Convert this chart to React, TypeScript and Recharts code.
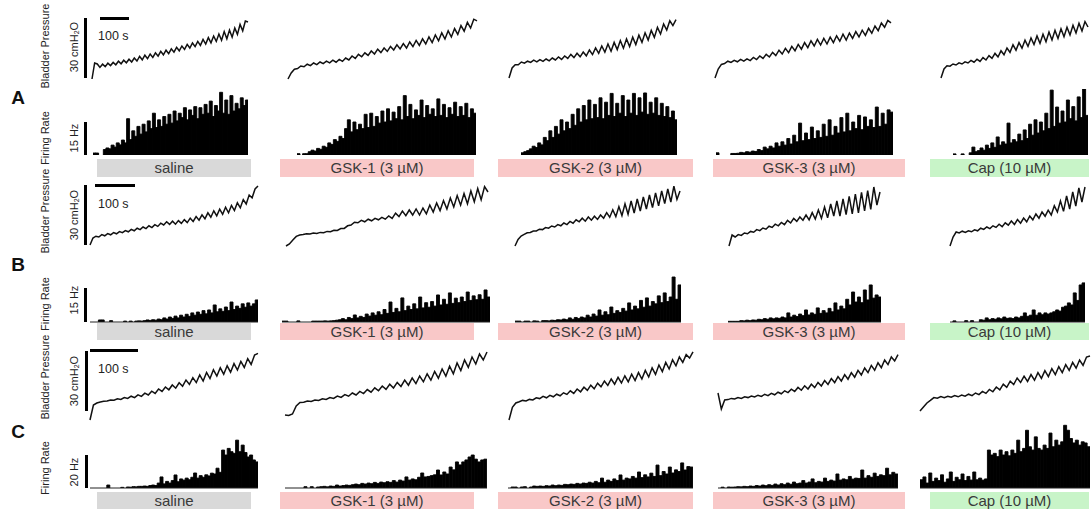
import React from "react";
import { LineChart, Line, BarChart, Bar, XAxis, YAxis, ReferenceLine } from "recharts";

// bladder pressure traces, cmH2O above the scale-bar foot
const presA0 = [-0.5,7.5,7.0,5.3,6.9,5.7,7.4,6.2,7.8,6.6,8.4,7.1,8.9,7.6,9.4,8.0,10.0,8.5,10.8,9.1,11.4,9.7,12.0,10.3,12.6,10.9,13.3,11.6,13.9,12.2,14.6,12.9,15.3,13.6,16.0,14.3,16.8,15.0,17.5,15.7,18.3,16.3,19.3,17.0,20.2,17.6,21.0,18.3,22.0,18.9,23.2,19.6,24.0,20.4,25.0,21.8,26.8,23.6,28.5,28.0];
const presA1 = [-0.5,2.5,4.4,4.7,6.0,5.6,6.9,6.2,7.5,6.7,8.0,7.2,8.4,7.6,8.9,7.9,9.3,8.3,10.0,9.0,11.0,9.8,11.8,10.6,12.6,11.3,13.5,12.0,14.4,12.7,15.0,13.3,15.8,14.0,16.6,14.5,17.2,15.0,18.0,15.7,18.8,16.3,19.6,17.0,20.5,17.7,21.5,18.6,22.6,19.5,23.6,20.5,24.7,21.8,26.2,23.4,27.8,25.0,29.4,28.6];
const presA2 = [0,5.0,6.6,6.6,8.0,7.4,8.4,7.8,8.9,8.1,9.2,8.3,9.5,8.6,10.0,9.0,10.5,9.3,11.0,9.8,11.8,10.2,12.4,10.6,13.0,11.1,14.0,11.7,15.0,12.3,16.0,12.9,17.0,13.4,17.8,14.2,18.7,14.9,19.5,15.7,20.4,16.7,21.4,17.8,22.6,19.0,23.8,20.3,25.3,22.0,27.0,24.0,28.6,26.2,29.2];
const presA3 = [0,4.5,6.8,7.2,8.4,7.8,8.8,8.1,9.3,8.4,9.6,8.7,10.3,9.2,11.0,9.8,11.8,10.5,12.8,11.2,13.9,12.0,14.8,12.7,15.8,13.6,16.8,14.4,17.7,15.2,18.6,16.0,19.3,16.5,19.8,17.0,20.4,17.7,21.1,18.4,21.9,19.0,22.5,19.8,23.2,20.5,23.9,21.3,24.8,22.4,26.0,23.7,27.5,25.4,28.8,27.6];
const presA4 = [0,4.5,6.1,5.9,7.0,6.5,7.6,7.0,8.1,7.5,8.8,7.9,9.4,8.3,10.2,9.0,11.2,9.8,12.3,10.5,13.6,11.6,15.0,12.8,16.6,13.9,17.7,14.9,18.9,15.8,20.0,16.7,21.0,17.3,21.9,18.1,23.0,19.0,23.8,19.8,24.6,20.6,25.4,21.5,26.4,22.5,27.4,23.5,28.2,25.5];

const presB0 = [0,3.5,4.4,4.0,5.2,4.6,5.7,5.1,6.2,5.6,6.7,6.2,7.2,6.6,7.8,7.1,8.4,7.7,9.0,8.2,9.6,8.7,10.2,9.3,10.9,10.0,11.6,10.3,11.9,10.4,12.2,10.8,12.7,11.2,13.4,11.8,14.2,12.4,15.1,13.1,16.1,13.9,17.1,14.6,17.9,15.3,18.9,16.1,19.8,17.2,21.1,18.6,22.7,20.5,25.0,23.6,28.0,29.5];
const presB1 = [-0.5,0.5,2.5,4.3,5.0,5.2,5.6,5.5,6.0,5.8,6.3,6.1,6.8,6.6,7.4,7.3,8.2,8.3,9.6,10.0,11.4,11.1,12.3,11.6,12.9,12.1,13.3,12.6,13.8,12.9,14.5,13.3,15.9,14.2,17.0,14.7,17.5,15.0,18.0,15.0,18.5,15.6,20.0,16.5,21.0,17.2,22.2,18.0,23.5,19.0,24.7,19.9,25.7,20.6,27.0,21.6,28.2,22.6,29.2,26.5];
const presB2 = [-0.5,2.8,4.5,5.3,6.1,6.3,7.0,7.0,7.9,7.7,8.7,8.4,9.5,9.0,10.2,9.6,11.0,10.2,11.8,10.9,12.6,11.6,13.4,11.9,14.0,12.4,14.4,12.8,15.0,13.4,16.2,13.9,17.6,14.2,19.2,14.7,20.6,15.4,22.0,16.0,23.0,17.0,24.0,18.0,25.0,18.7,26.0,19.6,27.0,20.7,28.0,21.5,29.4,22.8,27.0];
const presB3 = [-0.5,5.0,4.0,5.2,4.8,6.0,5.6,6.8,6.4,7.7,7.2,8.5,7.9,9.4,8.8,10.4,9.6,11.3,10.2,12.3,11.0,13.3,11.8,14.0,12.4,15.0,12.6,16.2,13.0,17.5,13.3,19.0,13.6,20.5,14.5,22.0,14.5,23.0,15.2,24.3,15.6,25.5,16.0,26.3,17.0,27.2,17.8,29.0,20.0,26.5];
const presB4 = [-0.5,4.0,6.5,6.0,6.9,6.3,7.1,6.6,7.6,7.1,8.4,7.8,9.0,8.2,9.6,8.8,10.4,9.2,11.1,9.9,12.0,10.3,12.7,10.9,13.5,11.6,14.5,12.6,15.5,13.4,16.5,14.4,17.4,15.0,19.6,16.5,22.0,16.8,24.5,18.0,26.5,19.5,28.5,21.5,29.0];

const presC0 = [-4.5,3.0,4.0,4.5,4.9,5.0,5.5,5.4,6.1,5.8,6.7,6.3,7.4,6.7,8.1,7.3,8.9,8.0,9.9,8.8,11.0,9.8,12.0,10.6,13.0,11.4,14.1,12.4,15.5,13.3,16.7,14.2,18.0,15.0,19.3,16.2,20.6,17.5,21.6,18.4,22.6,19.4,23.7,20.5,24.8,21.8,26.2,23.3,28.0,28.8];
const presC1 = [-2.0,-2.2,-1.5,2.5,4.3,4.4,5.0,4.8,5.5,5.3,6.1,5.8,6.7,6.3,7.5,6.8,8.2,7.4,9.0,8.0,9.8,8.7,10.7,9.4,11.6,10.1,12.5,10.8,13.4,11.5,14.3,12.3,15.5,12.9,16.5,13.7,17.5,14.6,18.6,15.4,19.8,16.4,21.0,17.4,22.4,18.6,24.0,20.2,25.5,21.8,27.0,23.5,28.5,25.5,29.5];
const presC2 = [-4.5,1.8,4.0,4.6,5.3,5.0,5.8,5.5,6.6,6.2,7.3,6.6,7.8,7.1,8.4,7.6,9.1,8.3,10.1,8.8,11.0,9.6,11.9,10.3,12.9,11.1,13.9,12.1,15.0,12.8,16.0,13.4,16.8,14.0,17.6,14.6,18.4,15.2,19.2,16.0,20.3,17.0,21.6,18.3,23.0,19.7,24.3,21.0,25.6,22.6,27.0,24.3,28.2,26.5,29.6];
const presC3 = [9.0,1.0,5.5,5.7,6.3,6.0,6.7,6.3,7.1,6.7,7.5,7.0,7.9,7.3,8.3,7.7,8.8,8.1,9.4,8.6,10.1,9.2,10.9,9.8,11.8,10.4,12.6,11.0,13.4,11.7,14.3,12.5,15.2,13.3,16.2,14.2,17.2,15.0,18.2,15.9,19.2,16.9,20.3,18.0,21.5,19.2,22.8,20.4,24.1,21.7,25.5,23.2,27.0,25.0,28.2];
const presC4 = [0,2.0,4.0,5.3,6.7,6.4,7.2,6.7,7.4,6.9,7.7,7.1,8.0,7.4,8.4,7.7,9.0,8.2,9.8,8.8,10.8,9.6,12.0,10.6,13.4,11.8,14.9,13.2,16.5,14.3,17.4,14.8,18.2,15.4,19.2,16.3,20.2,17.2,21.2,18.2,22.2,19.2,23.2,20.3,24.3,21.4,25.5,22.8,27.0,27.5];

// afferent firing rate, Hz per bin
const rateA0 = [0.9,0.9,0,0,2.5,3.2,2.8,4.5,3.6,5.5,4.6,6.8,5.5,16.5,7.0,11.0,8.5,13.0,9.5,14.0,10.5,15.5,12.0,19.0,12.5,16.0,13.0,17.5,14.0,18.5,14.5,20.0,15.5,19.0,17.0,21.5,16.0,20.5,18.0,22.0,16.5,21.5,18.5,23.0,19.0,24.5,17.5,22.5,20.0,28.5,19.0,25.0,18.5,27.0,20.0,23.5,21.0,26.0,22.5,25.0];
const rateA1 = [0.6,0,0.6,0.6,1.5,2.2,1.8,3.0,2.6,4.0,3.5,5.5,4.8,7.0,6.2,8.5,7.5,12.0,16.0,10.5,15.0,11.5,14.0,12.0,18.5,12.5,19.0,13.0,17.5,14.5,20.0,15.0,21.0,15.5,19.5,16.5,22.0,16.0,27.0,17.5,23.0,16.5,20.5,18.0,25.0,17.0,22.5,18.5,21.0,17.5,25.5,18.0,23.0,17.0,21.5,18.5,24.0,17.5,22.0,18.0,23.5,17.0,21.0,19.0];
const rateA2 = [1.0,1.5,2.0,2.8,4.0,3.4,5.5,4.6,8.0,6.5,11.0,8.0,13.0,9.5,16.0,11.0,15.0,12.0,18.5,13.5,21.0,15.0,22.5,16.0,25.0,16.5,23.0,17.0,26.0,16.5,24.0,18.0,28.0,17.5,23.5,19.0,27.0,17.5,25.0,19.0,28.0,18.0,26.0,19.5,28.2,18.5,24.0,19.0,26.0,18.0,23.5,17.5,22.0,17.0,20.0,16.0];
const rateA3 = [1.0,0,0,0,0,0.7,0.7,0.8,1.2,1.0,1.5,1.3,1.8,1.6,2.5,2.0,3.6,2.8,4.0,3.2,5.5,4.0,6.0,4.5,7.5,5.0,9.0,6.0,14.5,6.5,10.0,7.0,12.7,7.5,11.0,8.0,14.0,8.5,16.0,9.0,13.0,10.0,17.0,10.5,19.0,11.0,15.0,12.0,18.0,11.5,17.3,13.0,16.0,12.5,21.8,13.0,19.0,14.0,20.5,19.5];
const rateA4 = [0.5,0,0,0.5,0,0,1.0,3.6,1.5,2.0,3.2,2.2,4.5,3.0,5.5,3.5,8.2,4.5,6.0,5.0,14.5,5.5,7.0,6.0,9.5,6.5,11.4,7.5,14.0,9.0,16.0,10.0,15.0,11.0,19.0,12.0,29.5,13.0,21.8,14.5,20.0,15.0,25.0,16.5,22.0,15.5,26.4,17.0,30.0,18.0];

const rateB0 = [0,0,0,0.9,0.9,0,0,0.6,0,0,0,0,0.4,0,0.4,0,0.4,0.5,0.4,0.6,0.9,0.7,1.0,0.8,1.3,1.0,1.8,1.3,2.2,1.6,2.6,1.8,3.0,2.2,3.4,2.5,4.0,3.0,4.4,3.4,5.0,3.6,5.3,4.0,7.5,4.5,5.8,4.7,6.6,5.0,8.8,5.5,7.0,6.0,8.0,6.5,8.4,7.0,8.0,9.7];
const rateB1 = [0.4,0.4,0,0,0,0.5,0,0,0,0,0.4,0.4,0.4,0.4,0.5,0.4,0.5,0.6,0.8,1.0,1.5,1.0,2.0,1.5,3.1,1.8,2.5,2.0,3.5,2.6,4.0,3.0,4.5,3.2,5.5,3.8,8.8,4.2,6.0,4.5,10.6,5.0,7.0,5.5,8.0,5.8,11.0,6.2,8.5,6.5,9.0,7.0,11.9,7.5,10.0,7.8,12.8,8.2,10.5,8.5,11.0,9.0,13.2,9.5,11.5,9.8,12.0,10.0,14.1,11.0];
const rateB2 = [0.4,0.4,0,0.4,0.4,0,0.5,0.4,0,0.6,0.6,0.5,0.8,0.7,1.0,0.9,1.3,1.0,1.8,1.2,2.0,1.5,2.2,1.8,3.0,2.2,3.5,2.6,5.3,3.0,4.5,3.2,6.6,3.8,5.0,4.2,6.0,4.8,8.4,5.3,7.0,5.8,9.5,6.5,10.6,7.0,9.0,8.0,11.5,8.5,12.8,9.0,11.0,19.8,10.0,16.3];
const rateB3 = [0.3,0.3,0.3,0.3,0.6,0.5,0.8,0.6,0.9,0.8,1.2,1.0,1.5,1.2,1.8,1.4,1.8,1.6,2.2,1.8,4.0,2.2,3.0,2.4,3.5,2.8,5.3,3.1,4.0,3.4,6.2,3.8,5.0,4.0,6.0,4.5,8.4,5.3,7.0,5.8,10.0,7.5,13.2,8.8,11.0,8.5,14.1,9.7,16.3,10.5,11.9,11.0];
const rateB4 = [0,0.5,0,0,0,0.6,0,0.6,0,0,1.0,0.8,1.8,1.0,1.5,1.2,1.8,1.4,2.2,1.6,1.8,1.5,2.2,1.8,2.5,4.0,2.5,3.0,5.3,3.0,4.0,3.2,4.0,3.5,4.0,4.5,5.3,4.8,6.5,7.0,8.4,7.5,12.8,9.5,16.3,17.2];

const rateC0 = [0,0,0,0,0,0,1.8,0,0,0,0,0.4,0,0.6,0.5,0.8,0.7,1.0,1.0,1.2,1.0,1.5,1.8,1.5,3.0,6.7,2.5,4.0,3.0,4.5,7.9,3.8,5.5,4.8,6.0,5.0,6.5,9.1,6.0,7.5,6.5,8.0,7.3,9.0,8.5,12.0,9.5,23.0,20.0,24.0,22.0,21.0,29.0,22.0,26.0,21.5,18.8,20.0,17.0,15.8];
const rateC1 = [0,0,0,0,0,0,0.8,0,0.8,0,0.6,0.8,1.0,0.7,1.2,1.0,1.8,1.2,1.5,1.8,1.6,2.0,2.4,2.0,2.8,2.4,3.0,2.6,3.4,2.8,3.6,3.2,3.8,3.4,4.5,3.6,4.8,4.2,6.7,4.8,5.5,5.0,6.5,9.1,6.7,7.0,7.5,8.0,10.9,7.9,9.7,8.5,12.7,11.0,15.8,14.0,15.8,17.0,18.8,20.0,17.5,15.8,17.0,17.5];
const rateC2 = [0,0.6,0.6,0,0.6,0.8,0,0.6,1.2,1.0,1.2,1.0,1.4,1.2,1.8,1.4,1.8,1.6,2.2,2.0,2.4,2.2,2.8,2.4,3.0,2.8,3.5,3.0,4.0,3.2,6.0,3.5,4.8,4.0,5.5,4.5,7.9,4.8,6.0,5.5,7.0,6.0,9.7,6.3,8.0,6.7,9.0,7.0,13.9,7.5,10.0,8.5,12.7,9.1,11.0,10.0,15.2,10.9,13.0,12.7];
const rateC3 = [0,0.5,0,0.6,0.5,0.6,0.8,0.7,1.0,0.8,1.2,1.0,1.5,1.2,1.8,1.4,2.0,1.6,2.4,1.8,2.6,2.0,3.0,2.3,3.6,2.6,3.0,4.5,3.0,3.6,5.5,3.2,4.0,3.6,6.0,4.0,4.8,4.2,8.5,4.8,5.5,5.0,7.0,5.4,6.0,5.8,10.9,6.0,7.5,6.5,9.0,7.0,8.0,7.5,12.0,8.0,9.5,8.5];
const rateC4 = [5.0,6.7,3.0,9.1,4.0,6.0,4.5,8.0,3.5,5.5,9.7,4.0,6.5,5.0,8.5,4.5,7.0,4.8,9.7,5.0,6.0,4.8,5.5,23.0,20.0,21.0,19.0,23.0,20.0,22.0,19.5,23.0,21.0,29.0,22.0,24.0,35.0,25.0,23.0,31.0,24.0,23.0,26.0,24.0,33.3,25.0,29.0,26.0,28.0,38.0,35.0,30.0,27.3,29.0,26.0,28.0,27.3,25.0];

const conditions = ["saline", "GSK-1 (3 µM)", "GSK-2 (3 µM)", "GSK-3 (3 µM)", "Cap (10 µM)"];
const rowLetters = ["A", "B", "C"];
const rateScaleLabels = ["15 Hz", "15 Hz", "20 Hz"];

// layout (pixels)
const tagColors = ["#d9d9d9", "#f9c8c8", "#f9c8c8", "#f9c8c8", "#c8f4c8"];
const tagX = [[97, 251], [280, 474], [498, 693], [713, 905], [930, 1089]];

const rows = [
  {
    pres: [presA0, presA1, presA2, presA3, presA4],
    rate: [rateA0, rateA1, rateA2, rateA3, rateA4],
    pZero: 78,
    pX: [[92, 248], [288, 477], [509, 676], [715, 891], [941, 1088]],
    rX: [[93, 248], [297, 476], [521, 677], [716, 893], [953, 1088]],
    base: 155, rMax: 30, rH: 66, line: false,
    tagTop: 159, tagH: 18,
    hBar: [100, 17, 29], sText: 36,
    rBar: [84, 122, 33], letterY: 97,
    bpY: 46, frY: 138, cmY: 47, hzY: 138,
  },
  {
    pres: [presB0, presB1, presB2, presB3, presB4],
    rate: [rateB0, rateB1, rateB2, rateB3, rateB4],
    pZero: 245,
    pX: [[90, 258], [286, 488], [515, 680], [729, 880], [950, 1085]],
    rX: [[90, 258], [282, 490], [515, 681], [728, 881], [950, 1085]],
    base: 322, rMax: 22, rH: 50, line: true,
    tagTop: 323, tagH: 17,
    hBar: [95, 184, 40], sText: 204,
    rBar: [84, 288, 34], letterY: 264,
    bpY: 211, frY: 304, cmY: 215, hzY: 300,
  },
  {
    pres: [presC0, presC1, presC2, presC3, presC4],
    rate: [rateC0, rateC1, rateC2, rateC3, rateC4],
    pZero: 411,
    pX: [[90, 258], [285, 487], [509, 693], [718, 898], [920, 1090]],
    rX: [[90, 258], [285, 487], [508, 693], [718, 898], [920, 1090]],
    base: 488, rMax: 40, rH: 66, line: true,
    tagTop: 492, tagH: 17,
    hBar: [90, 349, 48], sText: 369,
    rBar: [85, 455, 33], letterY: 431,
    bpY: 377, frY: 468, cmY: 381, hzY: 472,
  },
];

const FONT = '"Liberation Sans", Arial, Helvetica, sans-serif';

function Trace({ values, x0, x1, zeroY }: { values: number[]; x0: number; x1: number; zeroY: number }) {
  const data = values.map((v, i) => ({ i, v }));
  // domain -6..32 at 2 px per cmH2O
  const top = zeroY - 64;
  return (
    <div style={{ position: "absolute", left: x0 - 2, top }}>
      <LineChart width={x1 - x0 + 4} height={76} data={data} margin={{ top: 0, right: 2, bottom: 0, left: 2 }}>
        <XAxis dataKey="i" type="number" domain={[0, values.length - 1]} hide />
        <YAxis domain={[-6, 32]} hide allowDataOverflow />
        <Line dataKey="v" type="linear" stroke="#111" strokeWidth={1.5} dot={false} isAnimationActive={false} />
      </LineChart>
    </div>
  );
}

function Hist({ values, x0, x1, base, max, h, line }: { values: number[]; x0: number; x1: number; base: number; max: number; h: number; line: boolean }) {
  const data = values.map((v, i) => ({ i, v }));
  return (
    <div style={{ position: "absolute", left: x0, top: base - h }}>
      <BarChart width={x1 - x0} height={h + 1} data={data} margin={{ top: 0, right: 0, bottom: 1, left: 0 }} barCategoryGap={0} barGap={0}>
        <XAxis dataKey="i" hide />
        <YAxis domain={[0, max]} hide allowDataOverflow />
        {line && <ReferenceLine y={0} stroke="#222" strokeWidth={1} />}
        <Bar dataKey="v" fill="#000" stroke="#000" strokeWidth={0.9} isAnimationActive={false} />
      </BarChart>
    </div>
  );
}

export default function App() {
  return (
    <div style={{ position: "absolute", left: 0, top: 0, width: 1091, height: 509, background: "#fff", fontFamily: FONT, overflow: "hidden" }}>
      {rows.map((row, r) => (
        <React.Fragment key={r}>
          {row.pres.map((p, c) => (
            <Trace key={`p${c}`} values={p} x0={row.pX[c][0]} x1={row.pX[c][1]} zeroY={row.pZero} />
          ))}
          {row.rate.map((v, c) => (
            <Hist key={`r${c}`} values={v} x0={row.rX[c][0]} x1={row.rX[c][1]} base={row.base} max={row.rMax} h={row.rH} line={row.line} />
          ))}
          {conditions.map((name, c) => (
            <div
              key={`t${c}`}
              style={{
                position: "absolute",
                left: tagX[c][0],
                top: row.tagTop,
                width: tagX[c][1] - tagX[c][0],
                height: row.tagH,
                lineHeight: `${row.tagH}px`,
                background: tagColors[c],
                color: "#3a3a3a",
                fontSize: 15,
                textAlign: "center",
              }}
            >
              {name}
            </div>
          ))}
          {/* scale bars */}
          <div style={{ position: "absolute", left: r === 2 ? 85 : 84, top: row.pZero - 60, width: 2.5, height: 60, background: "#000" }} />
          <div style={{ position: "absolute", left: row.hBar[0], top: row.hBar[1], width: row.hBar[2], height: 3, background: "#000" }} />
          <div style={{ position: "absolute", left: row.rBar[0], top: row.rBar[1], width: 2.5, height: row.rBar[2], background: "#000" }} />
        </React.Fragment>
      ))}
      <svg width={1091} height={509} style={{ position: "absolute", left: 0, top: 0, pointerEvents: "none" }} fontFamily={FONT}>
        {rows.map((row, r) => (
          <g key={r} fill="#222">
            <text x={18} y={row.letterY} fontSize={19} fontWeight="bold" textAnchor="middle" dominantBaseline="central" fill="#111">
              {rowLetters[r]}
            </text>
            <text x={98} y={row.sText} fontSize={12.5} dominantBaseline="central">100 s</text>
            <text transform={`translate(45 ${row.bpY}) rotate(-90)`} fontSize={11} textAnchor="middle" dominantBaseline="central">
              Bladder Pressure
            </text>
            <text transform={`translate(45 ${row.frY}) rotate(-90)`} fontSize={11} textAnchor="middle" dominantBaseline="central">
              Firing Rate
            </text>
            <text transform={`translate(74 ${row.cmY}) rotate(-90)`} fontSize={11} textAnchor="middle" dominantBaseline="central">
              30 cmH<tspan fontSize={7} dy={2}>2</tspan><tspan dy={-2}>O</tspan>
            </text>
            <text transform={`translate(74 ${row.hzY}) rotate(-90)`} fontSize={11} textAnchor="middle" dominantBaseline="central">
              {rateScaleLabels[r]}
            </text>
          </g>
        ))}
      </svg>
    </div>
  );
}
